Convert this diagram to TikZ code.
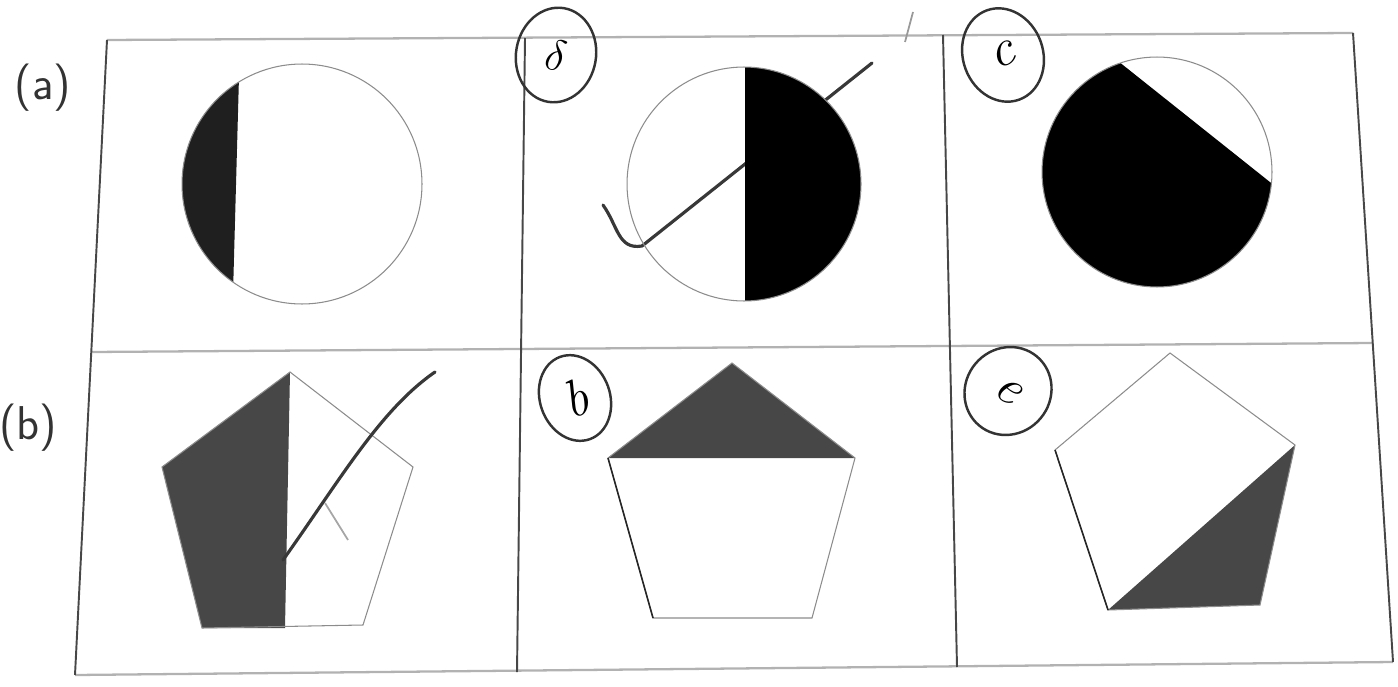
\documentclass[tikz,border=0pt]{standalone}
\usepackage{amsmath,amssymb}
\usepackage{tikz}
\usetikzlibrary{calc,shapes.geometric}

\begin{document}
\begin{tikzpicture}[x=0.02cm,y=-0.02cm,
    gridline/.style={line width=1.1pt,black!72},
    faintline/.style={line width=1.3pt,black!30},
    edge/.style={line width=0.6pt,black!45},
    pen/.style={line width=1.8pt,black!78,line cap=round,line join=round},
    penring/.style={draw=black!80,line width=1.4pt,ellipse,inner sep=0pt,
      font=\fontsize{30}{32}\selectfont},
    tag/.style={font=\sffamily\fontsize{27}{30}\selectfont,text=black!80}]
  \useasboundingbox (0,0) rectangle (1398,686);
  % 表格：两行三列，照片略有倾斜
  \coordinate (tl) at (107,40);   \coordinate (tr) at (1353,33);
  \coordinate (ml) at (91,352);   \coordinate (mr) at (1373,343);
  \coordinate (bl) at (75,675);   \coordinate (br) at (1393,662);
  \draw[faintline] (tl) -- (tr);
  \draw[faintline] (ml) -- (mr);
  \draw[faintline] (bl) -- (br);
  \draw[gridline] (tl) -- (bl);
  \draw[gridline] (525,38) -- (517,672);
  \draw[gridline] (943,35) -- (957,667);
  \draw[gridline] (tr) -- (br);
  % 行标签
  \node[tag] (rowa) at (43,88) {(a)};
  \node[tag] (rowb) at (28,428) {(b)};
  % 第一行：三个圆，部分涂黑
  \begin{scope}
    \clip (302,184) circle (2.4cm);
    \fill[black!88] (150,40) -- (240,40) -- (232,330) -- (150,330) -- cycle;
  \end{scope}
  \draw[edge] (302,184) circle (2.4cm);
  \draw[pen] (603,205) .. controls (618,226) and (618,250) .. (642,246) -- (872,63);
  \begin{scope}
    \clip (744,184) circle (2.34cm);
    \fill[black] (745,40) rectangle (900,330);
  \end{scope}
  \draw[edge] (744,184) circle (2.34cm);
  \begin{scope}
    \clip (1157,172) circle (2.3cm);
    \fill[black] (1040,-1) -- (1300,206) -- (1300,320) -- (1020,320) -- (1020,-1) -- cycle;
  \end{scope}
  \draw[edge] (1157,172) circle (2.3cm);
  % 第二行：三个五边形，部分涂灰
  \fill[black!72] (290,372) -- (162,467) -- (202,628) -- (285,628) -- cycle;
  \draw[edge] (290,372) -- (413,467) -- (363,625) -- (202,628) -- (162,467) -- cycle;
  \fill[black!72] (732,363) -- (855,458) -- (608,458) -- cycle;
  \draw[edge] (732,363) -- (855,458) -- (812,618) -- (653,618) -- (608,458) -- cycle;
  \draw[black!85,line width=0.9pt] (608,458) -- (653,618);
  \fill[black!72] (1295,445) -- (1260,605) -- (1108,610) -- cycle;
  \draw[edge] (1170,353) -- (1295,445) -- (1260,605) -- (1108,610) -- (1055,450) -- cycle;
  \draw[black!85,line width=0.9pt] (1055,450) -- (1108,610);
  % 手写勾号与圈
  \draw[pen] (283,560) .. controls (340,480) and (380,410) .. (435,372);
  \draw[black!35,line width=1pt] (325,503) -- (348,540);
  \draw[black!40,line width=1pt] (913,12) -- (905,42);
  \node[penring,minimum width=1.6cm,minimum height=1.9cm,rotate=-10] (ringb) at (556,55) {$\delta$};
  \node[penring,minimum width=1.6cm,minimum height=1.9cm,rotate=20] (ringc) at (1003,55) {\textit{c}};
  \node[penring,minimum width=1.4cm,minimum height=1.75cm,rotate=20] (ringd) at (575,398) {\textit{b}};
  \node[penring,minimum width=1.7cm,minimum height=1.8cm,rotate=-40] (ringe) at (1008,391) {\textit{e}};
\end{tikzpicture}
\end{document}
